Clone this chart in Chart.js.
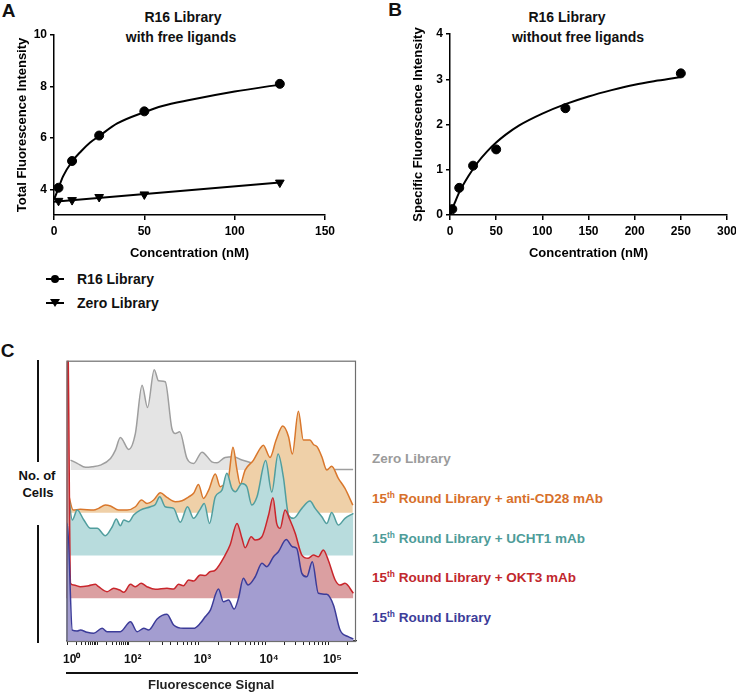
<!DOCTYPE html>
<html>
<head>
<meta charset="utf-8">
<script src="https://cdn.jsdelivr.net/npm/chart.js@4.4.1/dist/chart.umd.min.js"></script>
<style>
  html, body { margin: 0; padding: 0; background: #fff; overflow: hidden; }
  body { width: 736px; height: 694px; position: relative; font-family: 'Liberation Sans', Arial, sans-serif; font-weight: bold; color: #111; }
  canvas { position: absolute; }
  .t { position: absolute; white-space: nowrap; transform: translate(-50%, -50%); }
  .l { position: absolute; white-space: nowrap; transform: translateY(-50%); }
  .bar { position: absolute; background: #111; }
  sup { font-size: 0.62em; vertical-align: 0.55em; line-height: 0; }
</style>
</head>
<body>

<!-- 面板字母 -->
<div class="t" style="left:8.5px; top:10.5px; font-size:19px;">A</div>
<div class="t" style="left:395px; top:9.5px; font-size:19px;">B</div>
<div class="t" style="left:7.5px; top:350.5px; font-size:19px;">C</div>

<!-- A / B 标题 -->
<div class="t" style="left:183px; top:17px; font-size:14px;">R16 Library</div>
<div class="t" style="left:181px; top:37px; font-size:14px;">with free ligands</div>
<div class="t" style="left:567px; top:17px; font-size:14px;">R16 Library</div>
<div class="t" style="left:578px; top:37px; font-size:14px;">without free ligands</div>

<canvas id="chartA" width="345" height="262" style="left:0; top:0;"></canvas>
<canvas id="chartB" width="345" height="262" style="left:395px; top:0;"></canvas>

<!-- A 图例 -->
<svg style="position:absolute; left:45px; top:272px;" width="20" height="14">
  <line x1="1" y1="7" x2="19" y2="7" stroke="#000" stroke-width="2"/>
  <circle cx="10" cy="7" r="4" fill="#000"/>
</svg>
<div class="l" style="left:77px; top:279px; font-size:14px;">R16 Library</div>
<svg style="position:absolute; left:45px; top:296px;" width="20" height="14">
  <line x1="1" y1="7" x2="19" y2="7" stroke="#000" stroke-width="2"/>
  <polygon points="5,3 15,3 10,11" fill="#000"/>
</svg>
<div class="l" style="left:77px; top:303px; font-size:14px;">Zero Library</div>

<!-- C 纵轴 -->
<div class="bar" style="left:37px; top:360px; width:1.5px; height:102px;"></div>
<div class="bar" style="left:37px; top:525px; width:1.5px; height:118px;"></div>
<div class="t" style="left:37px; top:475px; font-size:13px;">No. of</div>
<div class="t" style="left:38px; top:492px; font-size:13px;">Cells</div>
<div class="bar" style="left:66px; top:672px; width:292px; height:1.5px;"></div>

<canvas id="chartC" width="300" height="339" style="left:60px; top:355px;"></canvas>

<!-- C 图例 -->
<div class="l" style="left:372px; top:458px; font-size:13.5px; color:#9b9b9b;">Zero Library</div>
<div class="l" style="left:372px; top:498px; font-size:13.5px; color:#d7702b;">15<sup>th</sup> Round Library + anti-CD28 mAb</div>
<div class="l" style="left:372px; top:538px; font-size:13.5px; color:#4e9c99;">15<sup>th</sup> Round Library + UCHT1 mAb</div>
<div class="l" style="left:372px; top:577px; font-size:13.5px; color:#c1272d;">15<sup>th</sup> Round Library + OKT3 mAb</div>
<div class="l" style="left:372px; top:617px; font-size:13.5px; color:#3c3c99;">15<sup>th</sup> Round Library</div>

<script>
// ---- A：含游离配体 ----
const concA = [2.5, 10, 25, 50, 125];
const r16TotalA = [4.06, 5.1, 6.09, 7.03, 8.1];
const zeroTotalA = [3.55, 3.58, 3.7, 3.8, 4.26];
const r16FitX = [0, 2.5, 5, 10, 15, 20, 25, 35, 50, 60, 75, 100, 125];
const r16FitY = [3.6, 4.05, 4.5, 5.08, 5.48, 5.82, 6.07, 6.56, 7.0, 7.24, 7.47, 7.8, 8.07];
const zeroFitX = [0, 125];
const zeroFitY = [3.52, 4.26];
const xTicksA = [0, 50, 100, 150];
const yTicksA = [4, 6, 8, 10];

// ---- B：不含游离配体 ----
const concB = [2.5, 10, 25, 50, 125, 250];
const specificB = [0.13, 0.6, 1.09, 1.45, 2.36, 3.13];
const fitBX = [0, 5, 10, 20, 30, 40, 50, 60, 75, 100, 125, 150, 175, 200, 225, 250];
const fitBY = [0, 0.26, 0.5, 0.86, 1.16, 1.4, 1.6, 1.77, 1.98, 2.24, 2.45, 2.62, 2.76, 2.88, 2.97, 3.05];
const xTicksB = [0, 50, 100, 150, 200, 250, 300];
const yTicksB = [0, 1, 2, 3, 4];

// ---- C：流式直方图（通道 0-1000，计数为最大值的 %）----
const decadeChannels = [4, 106, 215, 456, 686, 905];
const decadeLabels = ['10⁰', '', '10²', '10³', '10⁴', '10⁵'];
const laneOffset = 42.1;
const yMaxC = 276.2;

const zeroX = [14,37,66,89,117,152,169,186,215,238,261,280,303,318,341,364,376,391,416,439,468,502,520,548,577,606,646,686,772,876,990];
const zeroY = [9.9,6.6,2.7,3.3,4.9,11.5,19.7,32.2,20.4,36.2,83.7,61.8,99,88,87,41,36,37.7,11.5,6.6,17.7,8.2,7.2,12.5,13.1,9.9,6.6,4,2,0.5,0.5];

const cd28X = [7,23,48,94,111,134,152,180,209,238,259,278,301,324,347,376,399,422,439,456,473,491,514,531,548,560,575,589,600,617,646,669,680,703,724,747,767,780,801,818,841,853,866,882,899,916,939,962,989];
const cd28Y = [18,2.7,3.4,2.7,4.4,7.6,6.7,2.7,2.7,6.0,12.6,9.3,12.6,19.8,15.2,10.9,11.9,15.8,19.2,28,14.2,22.4,38.2,25.7,29,35.5,64.5,42.1,28.3,42.1,52,63.5,66.7,54.6,71.7,85.5,75,57.9,100,71.7,71.7,67.4,65,55.2,42.1,46,34,24,7.6];

const ucht1X = [7,20,37,60,83,106,134,158,172,186,198,215,232,255,290,307,322,341,370,393,418,439,460,476,494,514,537,554,571,583,606,623,640,658,688,709,731,749,767,784,813,841,859,882,899,916,939,962,991];
const ucht1Y = [60,35,44.8,35,26.8,26.8,19.5,28.4,36,29.4,35,33.3,39.9,44.8,48.1,50.4,57.9,48.1,46.5,32.7,48.1,36.7,44.8,51.4,31.7,57.9,64.5,81,66.2,62.9,71.1,67.8,49.8,57.9,93.6,62.6,100,77.6,39.9,36.7,46.5,53.7,46.5,38.2,31.7,42.4,30,36.7,41.6];

const okt3X = [0,3,14,25,48,77,100,111,140,163,184,198,221,238,258,278,307,347,370,387,404,422,439,462,479,494,514,548,565,589,606,617,638,652,675,698,713,726,738,755,772,790,813,835,853,870,887,904,928,945,962,991];
const okt3Y = [0,300,14.7,13,11.4,12.4,13.7,11.4,6.5,9.8,8.1,5.9,13.7,11.4,14.7,11.4,8.8,9.8,9.1,13.7,12.4,18,17,22.9,22.4,25.9,27.8,42.6,52.5,73.8,59.1,49.8,60.6,57.4,60.6,82,99,73.8,68.9,86.9,77.1,64,42.6,39.4,42.6,40.9,47.5,37.7,18,13,14.7,4.9];

const round15X = [0,3,20,37,48,71,94,123,140,186,221,244,267,284,313,347,370,404,439,462,479,497,525,542,560,579,594,611,627,652,675,692,715,732,759,780,795,813,830,849,870,899,922,945,973,991];
const round15Y = [0,116,10.8,9.9,10.8,8.6,7.6,12.5,9.2,9.2,19,9.2,12.5,10.8,21.7,26.3,15.8,12.5,12.5,17.4,23.9,30.5,51.2,38.7,40.4,31.5,42.1,61.8,55.2,63.3,76.6,73.2,83.1,88,100,92.9,91.3,66.7,63.3,78.1,47,46,35.5,10.8,4.2,2];

Chart.defaults.font.family = "'Liberation Sans', Arial, sans-serif";
Chart.defaults.font.weight = 'bold';
Chart.defaults.color = '#000';

function pts(xs, ys, base) {
    base = base || 0;
    return xs.map(function(x, i) { return {x: x, y: base + ys[i]}; });
}

// A 图
new Chart(document.getElementById('chartA'), {
    type: 'scatter',
    data: {
        datasets: [
            {label: 'R16 Library', data: pts(concA, r16TotalA), pointStyle: 'circle', pointRadius: 4.5, backgroundColor: '#000', borderColor: '#000'},
            {label: 'Zero Library', data: pts(concA, zeroTotalA), pointStyle: 'triangle', rotation: 180, pointRadius: 5, backgroundColor: '#000', borderColor: '#000'},
            {data: pts(r16FitX, r16FitY), showLine: true, pointRadius: 0, borderColor: '#000', borderWidth: 2, cubicInterpolationMode: 'monotone'},
            {data: pts(zeroFitX, zeroFitY), showLine: true, pointRadius: 0, borderColor: '#000', borderWidth: 2}
        ]
    },
    options: {
        responsive: false,
        animation: false,
        layout: {padding: {top: 35, right: 20, left: 0, bottom: 0}},
        plugins: {legend: {display: false}, tooltip: {enabled: false}},
        scales: {
            x: {
                type: 'linear', min: 0, max: 150,
                afterBuildTicks: function(s) { s.ticks = xTicksA.map(function(v) { return {value: v}; }); },
                afterFit: function(s) { s.height = 47; s.paddingLeft = 0; s.paddingRight = 0; },
                border: {display: true, color: '#000', width: 1.5},
                grid: {drawOnChartArea: false, tickLength: 5, color: '#000', lineWidth: 1.5},
                ticks: {color: '#000', padding: 4, font: {size: 12, weight: 'bold'}, maxRotation: 0, autoSkip: false},
                title: {display: true, text: 'Concentration (nM)', color: '#000', font: {size: 13, weight: 'bold'}, padding: {top: 0, bottom: 1}}
            },
            y: {
                type: 'linear', min: 3, max: 10,
                afterBuildTicks: function(s) { s.ticks = yTicksA.map(function(v) { return {value: v}; }); },
                afterFit: function(s) { s.width = 54; },
                border: {display: true, color: '#000', width: 1.5},
                grid: {drawOnChartArea: false, tickLength: 4, color: '#000', lineWidth: 1.5},
                ticks: {color: '#000', padding: 3, font: {size: 12, weight: 'bold'}},
                title: {display: true, text: 'Total Fluorescence Intensity', color: '#000', font: {size: 13, weight: 'bold'}, padding: {top: 15, bottom: 0}}
            }
        }
    }
});

// B 图
new Chart(document.getElementById('chartB'), {
    type: 'scatter',
    data: {
        datasets: [
            {data: pts(concB, specificB), pointStyle: 'circle', pointRadius: 4.5, backgroundColor: '#000', borderColor: '#000'},
            {data: pts(fitBX, fitBY), showLine: true, pointRadius: 0, borderColor: '#000', borderWidth: 2, cubicInterpolationMode: 'monotone'}
        ]
    },
    options: {
        responsive: false,
        animation: false,
        layout: {padding: {top: 34, right: 13, left: 0, bottom: 0}},
        plugins: {legend: {display: false}, tooltip: {enabled: false}},
        scales: {
            x: {
                type: 'linear', min: 0, max: 300,
                afterBuildTicks: function(s) { s.ticks = xTicksB.map(function(v) { return {value: v}; }); },
                afterFit: function(s) { s.height = 47; s.paddingLeft = 0; s.paddingRight = 0; },
                border: {display: true, color: '#000', width: 1.5},
                grid: {drawOnChartArea: false, tickLength: 5, color: '#000', lineWidth: 1.5},
                ticks: {color: '#000', padding: 4, font: {size: 12, weight: 'bold'}, maxRotation: 0, autoSkip: false},
                title: {display: true, text: 'Concentration (nM)', color: '#000', font: {size: 13, weight: 'bold'}, padding: {top: 0, bottom: 1}}
            },
            y: {
                type: 'linear', min: 0, max: 4,
                afterBuildTicks: function(s) { s.ticks = yTicksB.map(function(v) { return {value: v}; }); },
                afterFit: function(s) { s.width = 55; },
                border: {display: true, color: '#000', width: 1.5},
                grid: {drawOnChartArea: false, tickLength: 4, color: '#000', lineWidth: 1.5},
                ticks: {color: '#000', padding: 3, font: {size: 12, weight: 'bold'}},
                title: {display: true, text: 'Specific Fluorescence Intensity', color: '#000', font: {size: 13, weight: 'bold'}, padding: {top: 16, bottom: 0}}
            }
        }
    }
});

// C 图：刻度（主刻度 + 对数次刻度）
var cTicks = [];
decadeChannels.forEach(function(c, i) {
    cTicks.push({value: c, label: decadeLabels[i]});
    var next = i < decadeChannels.length - 1 ? decadeChannels[i + 1] : c + (c - decadeChannels[i - 1]);
    for (var k = 2; k <= 9; k++) {
        var v = c + Math.log10(k) * (next - c);
        if (v <= 1000) cTicks.push({value: v, label: ''});
    }
});

var frame = {
    id: 'frame',
    afterDatasetsDraw: function(chart) {
        var a = chart.chartArea, ctx = chart.ctx;
        ctx.save();
        ctx.strokeStyle = '#6e6e6e';
        ctx.lineWidth = 1.2;
        ctx.strokeRect(a.left + 0.5, a.top + 0.5, a.right - a.left - 1, a.bottom - a.top);
        ctx.restore();
    }
};

function lane(xs, ys, k, line, fillColor) {
    return {
        data: pts(xs, ys, k * laneOffset),
        borderColor: line,
        backgroundColor: fillColor,
        borderWidth: 1.5,
        pointRadius: 0,
        cubicInterpolationMode: 'monotone',
        fill: {value: k * laneOffset}
    };
}

new Chart(document.getElementById('chartC'), {
    type: 'line',
    data: {
        // 顺序靠前的画在最上层
        datasets: [
            lane(round15X, round15Y, 0, '#3c3c99', '#a39dd0'),
            lane(okt3X, okt3Y, 1, '#c9262c', '#db9fa1'),
            lane(ucht1X, ucht1Y, 2, '#519e9e', '#b8dcdd'),
            lane(cd28X, cd28Y, 3, '#d9772c', '#efd0a8'),
            lane(zeroX, zeroY, 4, '#9e9e9e', '#e4e4e4')
        ]
    },
    options: {
        responsive: false,
        animation: false,
        layout: {padding: {top: 5.7, right: 4, left: 6.5, bottom: 0}},
        plugins: {legend: {display: false}, tooltip: {enabled: false}},
        scales: {
            x: {
                type: 'linear', min: 0, max: 1000,
                afterBuildTicks: function(s) { s.ticks = cTicks.map(function(t) { return {value: t.value}; }); },
                afterFit: function(s) { s.height = 53; s.paddingLeft = 0; s.paddingRight = 0; },
                border: {display: true, color: '#333', width: 1.2},
                grid: {drawOnChartArea: false, tickLength: 4, color: '#222', lineWidth: 1},
                ticks: {
                    color: '#111', padding: 7, labelOffset: 4, autoSkip: false, maxRotation: 0,
                    font: {size: 12, weight: 'bold'},
                    callback: function(v, i) { return cTicks[i] ? cTicks[i].label : ''; }
                },
                title: {display: true, text: 'Fluorescence Signal', color: '#222', font: {size: 13, weight: 'bold'}, padding: {top: 0, bottom: 1}}
            },
            y: {type: 'linear', display: false, min: 0, max: yMaxC}
        }
    },
    plugins: [frame]
});
</script>
</body>
</html>
